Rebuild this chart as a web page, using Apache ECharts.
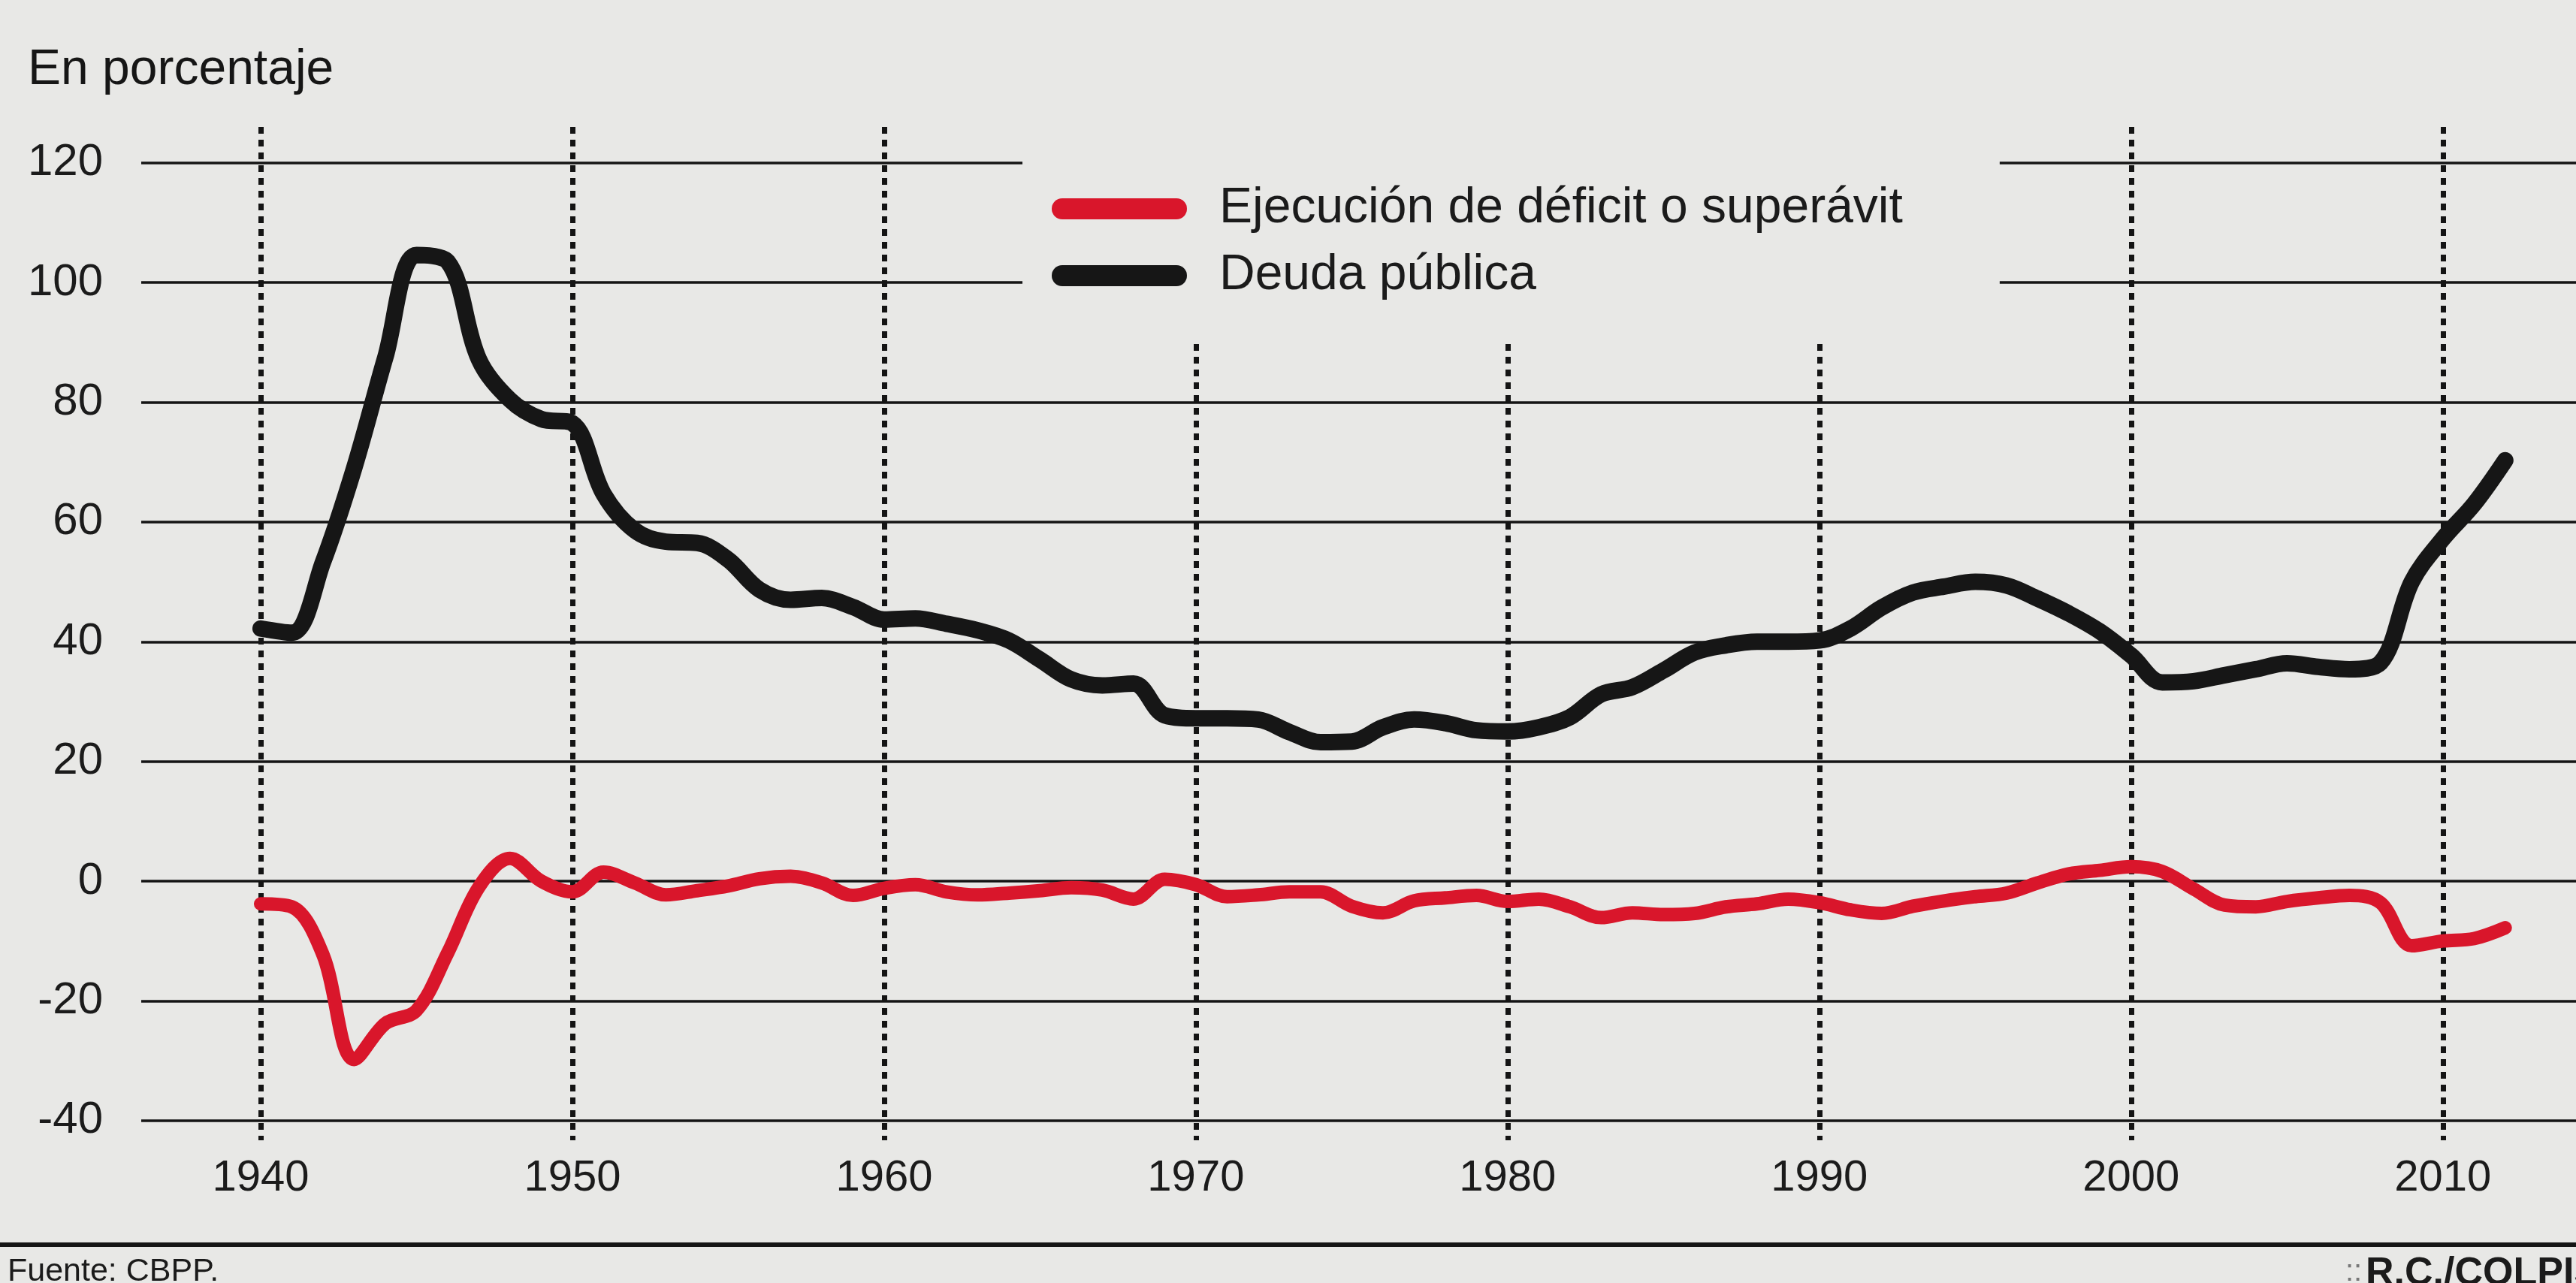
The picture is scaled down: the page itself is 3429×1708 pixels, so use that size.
<!DOCTYPE html>
<html>
<head>
<meta charset="utf-8">
<script src="https://cdn.jsdelivr.net/npm/echarts@6/dist/echarts.min.js"></script>
<style>
html,body{margin:0;padding:0;background:#e8e8e6;}
#chart{width:3429px;height:1708px;}
</style>
</head>
<body>
<div id="chart"></div>
<script>
// ---------- DATA ----------
const years = [1940,1941,1942,1943,1944,1945,1946,1947,1948,1949,
               1950,1951,1952,1953,1954,1955,1956,1957,1958,1959,
               1960,1961,1962,1963,1964,1965,1966,1967,1968,1969,
               1970,1971,1972,1973,1974,1975,1976,1977,1978,1979,
               1980,1981,1982,1983,1984,1985,1986,1987,1988,1989,
               1990,1991,1992,1993,1994,1995,1996,1997,1998,1999,
               2000,2001,2002,2003,2004,2005,2006,2007,2008,2009,
               2010,2011,2012];

// Ejecución de déficit o superávit (% PIB)
const deficit = [-3.8,-4.3,-12.3,-29.8,-23.8,-21.6,-12.0,-1.0,3.8,0.0,
                 -1.8,1.5,-0.3,-2.3,-1.6,-0.8,0.4,0.8,-0.3,-2.4,
                 -1.2,-0.6,-1.8,-2.3,-2.0,-1.6,-1.1,-1.5,-3.0,0.3,
                 -0.6,-2.6,-2.3,-1.8,-1.8,-4.2,-5.3,-3.3,-2.8,-2.4,
                 -3.4,-3.0,-4.3,-6.1,-5.3,-5.6,-5.4,-4.3,-3.8,-3.0,
                 -3.6,-4.8,-5.4,-4.2,-3.3,-2.6,-2.0,-0.3,1.2,1.8,
                 2.4,1.6,-1.3,-4.0,-4.3,-3.4,-2.8,-2.4,-3.6,-10.8,
                 -10.0,-9.6,-7.8];

// Deuda pública (% PIB)
const debt = [42.2,41.5,53.3,69.0,87.5,104.6,103.5,87.2,80.4,77.2,
              76.5,64.7,58.6,56.7,56.5,53.7,48.7,47.0,47.3,45.8,
              43.7,43.9,43.0,41.9,40.2,37.0,33.7,32.7,33.0,27.7,
              27.2,27.2,27.0,24.9,23.2,23.3,25.7,27.0,26.4,25.2,
              25.0,25.7,27.4,31.2,32.4,35.2,38.2,39.4,40.0,40.0,
              40.2,42.2,45.7,48.2,49.2,50.0,49.4,47.2,44.7,41.7,
              37.7,33.2,33.4,34.4,35.4,36.4,35.8,35.4,36.5,50.0,
              57.2,63.0,70.3];

const xTickValues = [1940,1950,1960,1970,1980,1990,2000,2010];
const yTickValues = [-40,-20,0,20,40,60,80,100,120];
const seriesNames = ['Ejecución de déficit o superávit','Deuda pública'];
const unitLabel = 'En porcentaje';
const sourceLabel = 'Fuente: CBPP.';
const creditMark = '::';
const creditLabel = 'R.C./COLPISA';

// ---------- CHART ----------
const BG = '#e8e8e6';
const FONT = '"Liberation Sans", Arial, "DejaVu Sans", sans-serif';
const RED = '#d9162b';
const BLACK = '#161616';

const chart = echarts.init(document.getElementById('chart'), null, {renderer:'canvas'});

const option = {
  backgroundColor: BG,
  animation: false,
  textStyle: {fontFamily: FONT},
  grid: {left: 188, right: 0, top: 169, bottom: 190, containLabel: false},
  xAxis: {
    type: 'value',
    min: 1936.17,
    max: 2014.27,
    axisLine: {show: false},
    axisTick: {show: false, customValues: xTickValues},
    axisLabel: {customValues: xTickValues, fontSize: 58, color: '#1b1b1b', margin: 22, fontFamily: FONT,
                formatter: v => String(v)},
    splitLine: {show: true, lineStyle: {type: [9, 8], width: 7, color: '#141414'}}
  },
  yAxis: {
    type: 'value',
    min: -43.3,
    max: 126,
    axisLine: {show: false},
    axisTick: {show: false, customValues: yTickValues},
    axisLabel: {customValues: yTickValues, fontSize: 60, color: '#1b1b1b', margin: 51, fontFamily: FONT,
                formatter: v => String(v)},
    splitLine: {show: true, lineStyle: {type: 'solid', width: 3.5, color: '#141414'}}
  },
  legend: {
    orient: 'vertical',
    left: 1361,
    top: 150,
    padding: [95, 129, 51, 39],
    backgroundColor: BG,
    itemWidth: 180,
    itemHeight: 28,
    itemGap: 23,
    icon: 'path://M14,0 L166,0 A14,14 0 0 1 166,28 L14,28 A14,14 0 0 1 14,0 Z',
    itemStyle: {borderWidth: 0},
    textStyle: {fontSize: 66, lineHeight: 66, color: '#1b1b1b', fontFamily: FONT, padding: [0, 0, 0, 38]},
    data: seriesNames
  },
  series: [
    {
      name: seriesNames[0],
      type: 'line',
      data: years.map((y, i) => [y, deficit[i]]),
      smooth: 0.35,
      symbol: 'none',
      color: RED,
      lineStyle: {color: RED, width: 18, cap: 'round', join: 'round'},
      z: 3
    },
    {
      name: seriesNames[1],
      type: 'line',
      data: years.map((y, i) => [y, debt[i]]),
      smooth: 0.35,
      symbol: 'none',
      color: BLACK,
      lineStyle: {color: BLACK, width: 22, cap: 'round', join: 'round'},
      z: 3
    }
  ],
  graphic: [
    {type: 'text', left: 37, top: 61, style: {text: unitLabel, fontSize: 66, fill: '#161616', fontFamily: FONT}},
    {type: 'line', shape: {x1: 0, y1: 1657, x2: 3429, y2: 1657}, style: {stroke: '#151515', lineWidth: 6}},
    {type: 'text', left: 10, top: 1672, style: {text: sourceLabel, fontSize: 43, fill: '#1b1b1b', fontFamily: FONT}},
    {type: 'text', x: 3122, y: 1674, style: {text: creditMark, fontSize: 40, fill: '#777777', fontFamily: FONT}},
    {type: 'text', x: 3149, y: 1670, style: {text: creditLabel, fontSize: 52, fontWeight: 'bold', fill: '#1b1b1b', fontFamily: FONT}}
  ]
};
chart.setOption(option);
</script>
</body>
</html>
